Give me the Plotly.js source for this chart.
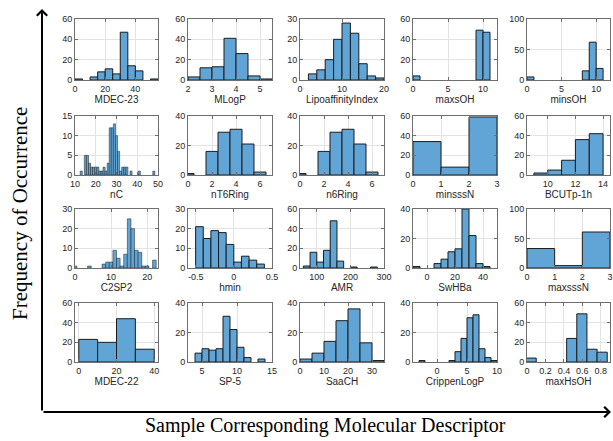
<!DOCTYPE html>
<html>
<head>
<meta charset="utf-8">
<script src="https://cdn.plot.ly/plotly-3.0.1.min.js"></script>
<style>
  html, body { margin: 0; padding: 0; background: #fff; }
  #chart { width: 613px; height: 441px; }
</style>
</head>
<body>
<div id="chart"></div>
<script>
// ---------------- DATA ----------------
const descriptors = ['MDEC-23', 'MLogP', 'LipoaffinityIndex', 'maxsOH', 'minsOH',
                     'nC', 'nT6Ring', 'n6Ring', 'minsssN', 'BCUTp-1h',
                     'C2SP2', 'hmin', 'AMR', 'SwHBa', 'maxsssN',
                     'MDEC-22', 'SP-5', 'SaaCH', 'CrippenLogP', 'maxHsOH'];

// first bin edge and bin width of each histogram
const binStart = [0, 2, 2, 0, 0,
                  11.5, -0.5, -0.5, 0, 9,
                  -0.5, -0.5, 60, -10, 0,
                  0, 4, 0, -3, -0.01];
const binWidth = [5, 0.5, 2, 1, 1,
                  1, 1, 1, 1, 1,
                  1, 0.1, 20, 5, 1,
                  10, 1, 5, 1, 0.11];

// counts per bin
const countsMDEC23  = [1, 0, 3, 8, 11, 6, 47, 14, 9, 0, 1];
const countsMLogP   = [3, 12, 13, 41, 26, 4, 1];
const countsLipo    = [3, 5, 10, 20, 28, 23, 8, 2, 1];
const countsMaxsOH  = [4, 0, 0, 0, 0, 0, 0, 0, 0, 49, 47];
const countsMinsOH  = [5, 0, 0, 0, 0, 0, 0, 0, 15, 62, 19];
const countsNC      = [0, 1, 0, 5, 5, 3, 2, 2, 2, 2, 1, 1, 2, 1, 3, 12, 12, 13, 10, 6,
                       1, 2, 2, 2, 0, 1, 0, 0, 0, 1, 0, 0, 0, 0, 0, 0, 1];
const countsNT6Ring = [1, 0, 16, 29, 31, 21, 2];
const countsN6Ring  = [1, 0, 16, 29, 31, 21, 2];
const countsMinsssN = [34, 8, 59];
const countsBCUT    = [2, 5, 15, 36, 42];
const countsC2SP2   = [1, 0, 0, 0, 1, 0, 0, 0, 2, 3, 3, 9, 5, 1, 7, 25, 20, 9, 8, 1, 1, 0, 4];
const countsHmin    = [21, 15, 19, 18, 12, 3, 6, 4, 2];
const countsAMR     = [2, 16, 6, 18, 48, 7, 0, 1, 0, 0, 1];
const countsSwHBa   = [1, 0, 0, 3, 6, 11, 13, 40, 22, 3, 1];
const countsMaxsssN = [33, 4, 61];
const countsMDEC22  = [23, 20, 44, 13];
const countsSP5     = [6, 9, 8, 9, 31, 22, 10, 3, 0, 2];
const countsSaaCH   = [2, 6, 14, 28, 36, 13, 1];
const countsCrippen = [1, 0, 0, 0, 0, 1, 7, 16, 30, 32, 9, 3, 1];
const countsMaxHsOH = [4, 0, 0, 0, 24, 49, 13, 10];

const allCounts = [countsMDEC23, countsMLogP, countsLipo, countsMaxsOH, countsMinsOH,
                   countsNC, countsNT6Ring, countsN6Ring, countsMinsssN, countsBCUT,
                   countsC2SP2, countsHmin, countsAMR, countsSwHBa, countsMaxsssN,
                   countsMDEC22, countsSP5, countsSaaCH, countsCrippen, countsMaxHsOH];

// axis ranges and tick values
const xRanges = [[0, 55], [2, 5.5], [0, 20], [0, 12], [0, 12],
                 [10, 50], [0, 7], [0, 7], [0, 3], [8.5, 14.5],
                 [0, 23], [-0.6, 0.5], [50, 300], [-10, 50], [0, 3],
                 [-2, 42], [3, 15], [0, 35], [-4, 10], [0, 0.9]];
const xTicks = [[0, 20, 40], [2, 3, 4, 5], [0, 10, 20], [0, 5, 10], [0, 5, 10],
                [10, 20, 30, 40, 50], [0, 2, 4, 6], [0, 2, 4, 6], [0, 1, 2, 3], [10, 12, 14],
                [0, 10, 20], [-0.5, 0, 0.5], [100, 200, 300], [0, 20, 40], [0, 1, 2, 3],
                [0, 20, 40], [5, 10, 15], [0, 10, 20, 30], [0, 5, 10], [0, 0.2, 0.4, 0.6, 0.8]];
const yMax = [60, 60, 30, 60, 100,
              15, 40, 40, 60, 60,
              30, 30, 60, 40, 100,
              60, 40, 40, 40, 60];
const yTicks = [[0, 20, 40, 60], [0, 20, 40, 60], [0, 10, 20, 30], [0, 20, 40, 60], [0, 50, 100],
                [0, 5, 10, 15], [0, 20, 40], [0, 20, 40], [0, 20, 40, 60], [0, 20, 40, 60],
                [0, 10, 20, 30], [0, 10, 20, 30], [0, 20, 40, 60], [0, 20, 40], [0, 50, 100],
                [0, 20, 40, 60], [0, 20, 40], [0, 20, 40], [0, 20, 40], [0, 20, 40, 60]];

const yTitle = 'Frequency of Occurrence';
const xTitle = 'Sample Corresponding Molecular Descriptor';

// ---------------- LAYOUT ----------------
const W = 613, H = 441;
const colL = [75, 188, 300, 413, 527];
const colR = [158, 272, 384, 497, 610];
const rowT = [19, 116, 209, 303];
const rowB = [80, 175, 268, 362];

const barFill = 'rgb(96,165,214)';
const barEdge = '#1c1c1c';
const frameColor = '#6e6e6e';
const gridColor = '#e3e3e3';
const tickFont = { family: 'Liberation Sans, Arial, sans-serif', size: 9, color: '#262626' };

const traces = [];
const layout = {
  width: W, height: H,
  margin: { l: 0, r: 0, t: 0, b: 0 },
  paper_bgcolor: '#ffffff',
  plot_bgcolor: '#ffffff',
  showlegend: false,
  barmode: 'overlay',
  annotations: [],
  font: { family: 'Liberation Sans, Arial, sans-serif' }
};

descriptors.forEach((name, i) => {
  const r = Math.floor(i / 5), c = i % 5;
  const sfx = i === 0 ? '' : String(i + 1);
  const counts = allCounts[i];
  const xs = [], ys = [], ws = [];
  counts.forEach((v, k) => {
    if (v > 0) {
      xs.push(binStart[i] + binWidth[i] * (k + 0.5));
      ys.push(v);
      ws.push(binWidth[i]);
    }
  });
  // thinner outline when bars are only a few pixels wide
  const pxPerBin = binWidth[i] / (xRanges[i][1] - xRanges[i][0]) * (colR[c] - colL[c]);
  const edgeW = pxPerBin < 4 ? 0.5 : 1;
  traces.push({
    type: 'bar', x: xs, y: ys, width: ws,
    xaxis: 'x' + sfx, yaxis: 'y' + sfx,
    marker: { color: barFill, line: { color: barEdge, width: edgeW } },
    hoverinfo: 'skip', showlegend: false
  });
  layout['xaxis' + sfx] = {
    domain: [colL[c] / W, colR[c] / W],
    anchor: 'y' + sfx,
    range: xRanges[i],
    tickmode: 'array', tickvals: xTicks[i], ticktext: xTicks[i].map(v => String(v)),
    ticks: 'inside', ticklen: 3, tickcolor: frameColor,
    showline: true, linecolor: frameColor, linewidth: 1, mirror: 'ticks',
    showgrid: true, gridcolor: gridColor, gridwidth: 1,
    zeroline: false, tickfont: tickFont,
    title: { text: name, font: { family: 'Liberation Sans, Arial, sans-serif', size: 10, color: '#262626' }, standoff: 1 },
    fixedrange: true
  };
  layout['yaxis' + sfx] = {
    domain: [1 - rowB[r] / H, 1 - rowT[r] / H],
    anchor: 'x' + sfx,
    range: [0, yMax[i]],
    tickmode: 'array', tickvals: yTicks[i], ticktext: yTicks[i].map(v => String(v)),
    ticks: 'inside', ticklen: 3, tickcolor: frameColor,
    showline: true, linecolor: frameColor, linewidth: 1, mirror: 'ticks',
    showgrid: true, gridcolor: gridColor, gridwidth: 1,
    zeroline: false, tickfont: tickFont,
    fixedrange: true
  };
});

// big axis arrows
layout.annotations.push({
  xref: 'paper', yref: 'paper', x: 42 / W, y: 1 - 9 / H,
  ax: 0, ay: 403, axref: 'pixel', ayref: 'pixel',
  showarrow: true, arrowhead: 4, arrowsize: 1, arrowwidth: 2, arrowcolor: '#000', text: ''
});
layout.annotations.push({
  xref: 'paper', yref: 'paper', x: 611 / W, y: 1 - 412 / H,
  ax: -569, ay: 0, axref: 'pixel', ayref: 'pixel',
  showarrow: true, arrowhead: 4, arrowsize: 1, arrowwidth: 2, arrowcolor: '#000', text: ''
});
// big titles
layout.annotations.push({
  xref: 'paper', yref: 'paper', x: 20 / W, y: 1 - 214 / H,
  xanchor: 'center', yanchor: 'middle', textangle: -90, showarrow: false,
  text: yTitle, font: { family: 'Liberation Serif, Times New Roman, serif', size: 21, color: '#000' }
});
layout.annotations.push({
  xref: 'paper', yref: 'paper', x: 325 / W, y: 1 - 439 / H,
  xanchor: 'center', yanchor: 'bottom', showarrow: false,
  text: xTitle, font: { family: 'Liberation Serif, Times New Roman, serif', size: 20, color: '#000' }
});

Plotly.newPlot('chart', traces, layout, { staticPlot: true, displayModeBar: false });
</script>
</body>
</html>
